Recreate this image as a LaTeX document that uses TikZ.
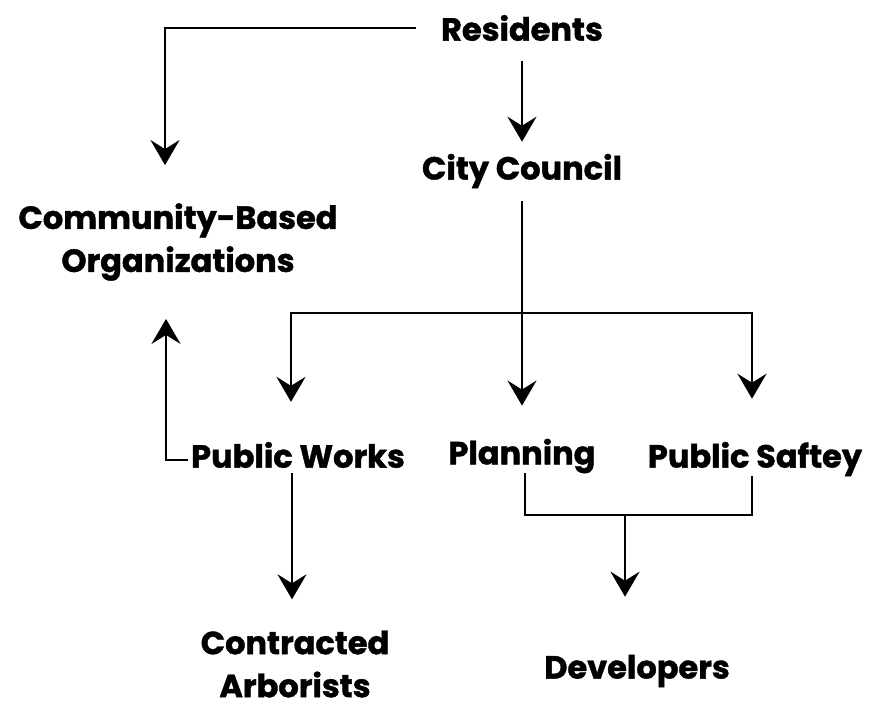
\documentclass[tikz,border=0pt]{standalone}
\usepackage{fontspec}
\setmainfont{Poppins}[BoldFeatures={FakeBold=1.3}]
\usepackage{tikz}
\usetikzlibrary{arrows.meta, positioning}

\begin{document}
\begin{tikzpicture}[x=1pt, y=-1pt, node distance=140pt,
        lbl/.style={font=\fontsize{32}{43}\selectfont\bfseries, align=center, inner sep=0pt},
        line/.style={line width=2.8pt, color=black},
        arrow/.style={-{Stealth[length=25pt, width=29pt, inset=9pt]}, line width=2.8pt, color=black}]

        \useasboundingbox (0,0) rectangle (872,708);

        % Top: residents and council
        \node[lbl] (res) at (522,28) {Residents};
        \node[lbl, below of=res, node distance=143pt] (cc) {City Council};
        \node[lbl, left of=cc, node distance=344pt, yshift=-71pt] (cbo) {Community-Based\\Organizations};

        % Departments
        \node[lbl, below of=cc, node distance=285pt] (pl) {Planning};
        \node[lbl, left of=pl, node distance=224pt, yshift=1pt] (pw) {Public Works};
        \node[lbl, right of=pl, node distance=233pt, yshift=-3pt] (ps) {Public Saftey};

        % Bottom: outside parties
        \node[lbl, below of=pw, node distance=209pt, xshift=-3pt] (ca) {Contracted\\Arborists};
        \node[lbl, right of=ca, node distance=342pt, yshift=-7pt] (dev) {Developers};

        \coordinate (fork) at (522,313);
        \coordinate (join) at (625,515);

        % Arrows
        \draw[arrow, shorten <=25pt, shorten >=38pt] (res.west) -| ([xshift=-13pt]cbo.north);
        \draw[arrow, shorten <=20pt, shorten >=12pt] (res.south) -- (cc.north);
        \draw[arrow, shorten <=13pt, shorten >=33pt] (cc.south) -- (pl.north);
        \draw[arrow, shorten >=40pt] (fork) -| ([xshift=-7pt]pw.north);
        \draw[arrow, shorten >=43pt] (fork) -| ([xshift=-3pt]ps.north);
        \draw[arrow, shorten <=3pt, shorten >=38pt] ([yshift=-5pt]pw.west) -| ([xshift=-12pt]cbo.south);
        \draw[arrow, shorten <=5pt, shorten >=31pt] ([xshift=-6pt]pw.south) -- ([xshift=-3pt]ca.north);
        \draw[line] ([xshift=3pt]pl.south) |- (join) -| ([xshift=-3pt]ps.south);
        \draw[arrow, shorten >=58pt] (join) -- (join |- dev.north);
\end{tikzpicture}
\end{document}
